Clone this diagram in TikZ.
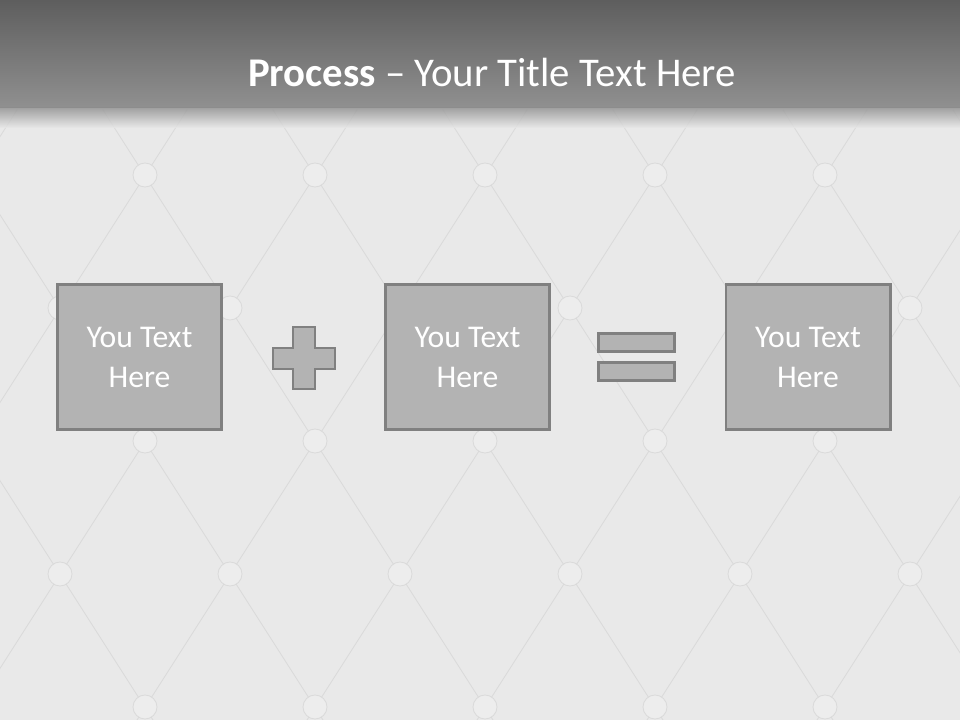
\documentclass[tikz,border=0pt]{standalone}
\usepackage{fontspec}
\setmainfont{Carlito}
\definecolor{pcHeadTop}{HTML}{5E5E5E}
\definecolor{pcHeadBot}{HTML}{909090}
\definecolor{pcLeather}{HTML}{E9E9E9}
\definecolor{pcSeam}{HTML}{DADADA}
\definecolor{pcButton}{HTML}{EDEDED}
\definecolor{pcBox}{HTML}{B3B3B3}
\definecolor{pcEdge}{HTML}{808080}

\begin{document}
\begin{tikzpicture}[x=0.025cm,y=-0.025cm,
		stepbox/.style={draw=pcEdge,fill=pcBox,line width=2.1pt,minimum width=4.1cm,minimum height=3.625cm,
			inner sep=0pt,text=white,align=center,font=\fontsize{22.5}{28.5}\selectfont},
		sign/.style={draw=pcEdge,fill=pcBox,line width=2.1pt},
		seam/.style={pcSeam,line width=0.6pt},
		title/.style={text=white,anchor=base,inner sep=0pt,font=\fontsize{29}{34}\selectfont}]
		\useasboundingbox (0,0) rectangle (960,720);
		% leather background
		\fill[pcLeather] (0,0) rectangle (960,720);
		\begin{scope}
			\clip (0,108) rectangle (960,720);
			\foreach \i in {-3,...,7} {
				\pgfmathsetmacro\bx{145+170*\i}
				\draw[seam] ({\bx-42},110) -- ({\bx+348},720);
				\draw[seam] ({\bx+42},110) -- ({\bx-348},720);
			}
			\foreach \k in {0,...,4} {
				\pgfmathsetmacro\by{175+133*\k}
				\pgfmathsetmacro\off{mod(\k,2)==0 ? 145 : 60}
				\foreach \i in {-1,...,6}
					\filldraw[fill=pcButton,draw=pcSeam,line width=0.6pt] ({\off+170*\i},\by) circle (12);
			}
		\end{scope}
		% header band
		\shade[top color=pcHeadTop,bottom color=pcHeadBot] (0,0) rectangle (960,108);
		\shade[top color=pcHeadBot,bottom color=pcLeather,opacity=0.8] (0,108) rectangle (960,128);
		\node[title] (head) at (492,87) {\textbf{Process} – Your Title Text Here};
		% process boxes
		\node[stepbox] (left) at (139.5,357) {You Text\\Here};
		\node[stepbox] (mid) at (467.5,357) {You Text\\Here};
		\node[stepbox] (right) at (808,357) {You Text\\Here};
		% plus and equals
		\draw[sign] (293,327) -- (315,327) -- (315,348) -- (335,348) -- (335,369) -- (315,369)
			-- (315,389) -- (293,389) -- (293,369) -- (273,369) -- (273,348) -- (293,348) -- cycle;
		\node[sign,minimum width=1.9cm,minimum height=0.45cm,inner sep=0pt] (eqtop) at (636.5,342.5) {};
		\node[sign,minimum width=1.9cm,minimum height=0.45cm,inner sep=0pt] (eqbot) at (636.5,371.5) {};
\end{tikzpicture}
\end{document}
